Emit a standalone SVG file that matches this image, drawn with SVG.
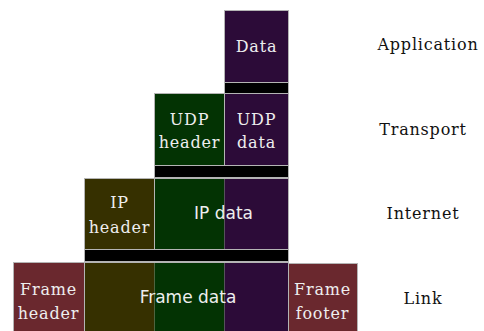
<svg xmlns="http://www.w3.org/2000/svg" width="484" height="331" viewBox="0 0 484 331">
<style>
.b{stroke:#b4b4b4;stroke-width:1}
.pu{fill:#2c0b38}
.gr{fill:#033303}
.ol{fill:#363000}
.fr{fill:#6a282e}
.bk{fill:#000}
.s{font-family:"DejaVu Serif",serif;font-size:16px;fill:#eeeeee;text-anchor:middle;letter-spacing:0.8px}
.ss{font-family:"DejaVu Sans",sans-serif;font-size:17px;fill:#eeeeee;text-anchor:middle}
.lab{font-family:"DejaVu Serif",serif;font-size:16px;fill:#111;text-anchor:middle;letter-spacing:0.8px}
</style>
<rect width="484" height="331" fill="#fff"/>
<g id="application">
<rect class="pu b" x="224.5" y="10.5" width="64" height="72"/>
<text class="s" x="256.5" y="52">Data</text>
<rect class="bk b" x="224.5" y="82.5" width="64" height="11"/>
</g>
<g id="transport">
<rect class="gr b" x="154.5" y="93.5" width="70" height="72"/>
<rect class="pu b" x="224.5" y="93.5" width="64" height="72"/>
<text class="s" x="189.5" y="125">UDP</text>
<text class="s" x="189.5" y="148">header</text>
<text class="s" x="256.5" y="125">UDP</text>
<text class="s" x="256.5" y="148">data</text>
<rect class="bk b" x="154.5" y="165.5" width="134" height="12"/>
</g>
<g id="internet">
<rect class="gr" x="154.5" y="178.5" width="70" height="71"/>
<rect class="pu" x="224.5" y="178.5" width="64" height="71"/>
<rect class="ol b" x="84.5" y="178.5" width="70" height="71"/>
<rect fill="none" class="b" x="154.5" y="178.5" width="134" height="71"/>
<text class="s" x="119.5" y="208">IP</text>
<text class="s" x="119.5" y="233">header</text>
<text class="ss" x="223.5" y="219">IP data</text>
<rect class="bk b" x="84.5" y="249.5" width="204" height="12"/>
</g>
<g id="link">
<rect class="ol" x="84.5" y="262.5" width="70" height="72"/>
<rect class="gr" x="154.5" y="262.5" width="70" height="72"/>
<rect class="pu" x="224.5" y="262.5" width="64" height="72"/>
<rect fill="none" class="b" x="84.5" y="262.5" width="204" height="72"/>
<rect class="fr b" x="13.5" y="262.5" width="71" height="72"/>
<rect class="fr b" x="288.5" y="263.5" width="69" height="72"/>
<text class="s" x="48.5" y="295">Frame</text>
<text class="s" x="48.5" y="319">header</text>
<text class="ss" x="188" y="303">Frame data</text>
<text class="s" x="322.5" y="295">Frame</text>
<text class="s" x="322.5" y="319">footer</text>
</g>
<g id="labels">
<text class="lab" x="428" y="50">Application</text>
<text class="lab" x="423" y="135">Transport</text>
<text class="lab" x="423" y="219">Internet</text>
<text class="lab" x="423" y="304">Link</text>
</g>
<g id="connectors"/>
</svg>
